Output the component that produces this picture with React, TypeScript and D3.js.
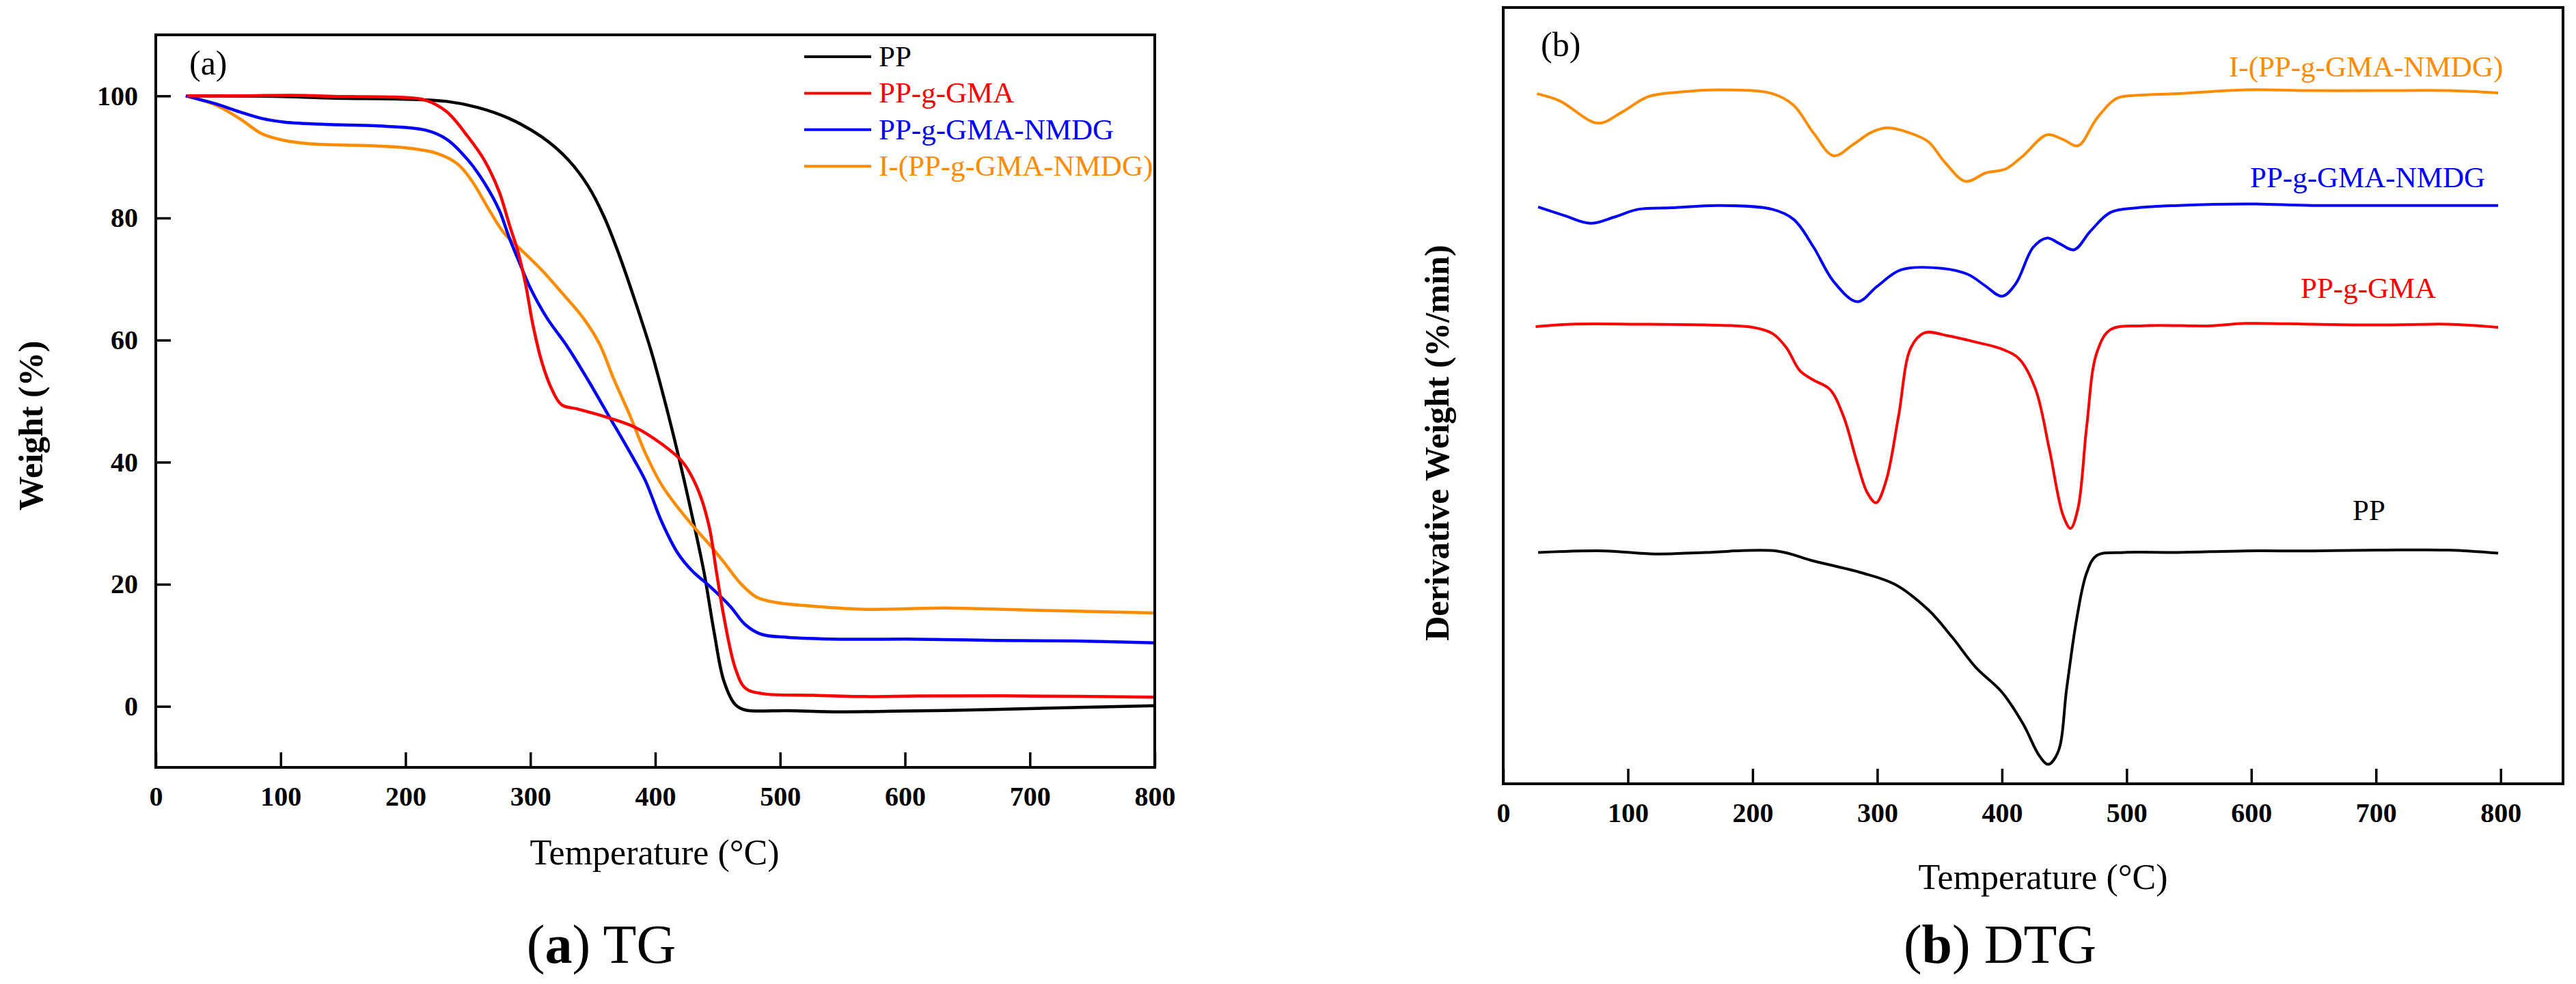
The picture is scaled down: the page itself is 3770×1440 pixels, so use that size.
import React, { useEffect, useRef } from 'react';
import * as d3 from 'd3';

type Pt = [number, number];

// TG curves: [temperature °C, weight %]
const ppTG: Pt[] = [
  [25, 100], [100, 99.9], [149, 99.6], [191, 99.5], [233, 99.1], [258, 98.1], [283, 96.3],
  [309, 93.3], [330, 89.6], [346, 85.3], [359, 80.2], [371, 74], [384, 66.3], [397, 58],
  [407, 50.5], [418, 41.5], [428, 32.6], [439, 22], [447, 12.3], [455, 4.1], [464, 0.3],
  [472, -0.6], [506, -0.7], [548, -0.9], [590, -0.8], [652, -0.6], [715, -0.3], [800, 0.1],
];
const gmaTG: Pt[] = [
  [25, 100], [60, 100], [110, 100.1], [149, 99.9], [191, 99.8], [216, 99.3], [233, 97.4],
  [250, 93.3], [263, 89.5], [275, 84.3], [283, 79], [290, 74.5], [296, 69.3], [302, 62.5],
  [309, 56.5], [317, 52], [325, 49.4], [338, 48.7], [359, 47.5], [384, 45.7], [405, 43],
  [422, 40], [434, 35.6], [443, 29.6], [449, 22], [455, 14.6], [464, 6.3], [472, 3],
  [485, 2.1], [527, 1.8], [569, 1.6], [610, 1.7], [694, 1.7], [800, 1.5],
];
const nmdgTG: Pt[] = [
  [24, 100], [48, 98.7], [67, 97.4], [85, 96.3], [103, 95.7], [140, 95.3], [176, 95.1],
  [216, 94.4], [233, 92.9], [250, 89.5], [263, 85.8], [275, 81.3], [283, 76.8], [292, 72.3],
  [300, 68.5], [313, 63.7], [330, 58.8], [346, 53.5], [363, 47.5], [380, 41.5], [392, 37],
  [405, 30.3], [418, 25.1], [430, 22.1], [443, 19.8], [460, 16.4], [472, 13.4], [485, 11.8],
  [506, 11.3], [548, 11], [610, 11], [673, 10.8], [736, 10.7], [800, 10.4],
];
const iNmdgTG: Pt[] = [
  [24, 100], [48, 98.5], [67, 96.3], [85, 93.8], [103, 92.7], [121, 92.2], [140, 92],
  [176, 91.8], [200, 91.5], [225, 90.6], [242, 88.8], [254, 85.8], [267, 81.3], [279, 77.5],
  [292, 74.9], [309, 71.5], [325, 67.8], [342, 63.7], [355, 59.5], [367, 53.5], [380, 47.5],
  [392, 41.5], [405, 36.3], [418, 32.6], [430, 29.6], [443, 26.6], [455, 23.6], [468, 20.2],
  [481, 17.9], [497, 17], [527, 16.4], [569, 15.9], [632, 16.1], [694, 15.8], [800, 15.3],
];

// DTG curves: [temperature °C, derivative weight, arbitrary offset units]
const ppDTG: Pt[] = [
  [28, 29.8], [81, 30], [122, 29.6], [162, 29.8], [219, 30], [249, 28.7], [287, 27.2],
  [314, 25.7], [341, 22.4], [360, 18.9], [379, 15], [400, 11.8], [417, 7.7], [430, 3.6],
  [437, 2.5], [445, 4.1], [452, 12.4], [460, 21.3], [468, 27.2], [476, 29.4], [498, 29.8],
  [541, 29.8], [595, 30], [649, 30], [703, 30.1], [758, 30.1], [798, 29.7],
];
const gmaDTG: Pt[] = [
  [26, 58.9], [54, 59.2], [108, 59.2], [162, 59.1], [200, 58.8], [216, 58], [227, 56.2],
  [238, 53.2], [249, 52], [262, 50.8], [273, 47.3], [284, 41.3], [292, 37.5], [299, 36.2],
  [307, 39], [317, 47.3], [327, 56.2], [338, 58.1], [357, 57.7], [379, 56.9], [400, 56],
  [414, 54.7], [427, 50.8], [438, 43.1], [449, 34.6], [455, 32.9], [461, 35.5], [468, 46.1],
  [476, 55.5], [487, 58.5], [514, 59], [568, 59], [595, 59.3], [649, 59.2], [703, 59.1],
  [758, 59.2], [798, 58.8],
];
const nmdgDTG: Pt[] = [
  [28, 74.3], [49, 73.2], [70, 72.2], [89, 73], [108, 74], [135, 74.2], [173, 74.5],
  [216, 74], [233, 72.7], [249, 69.1], [265, 64.7], [284, 62.1], [300, 64.1], [319, 66.2],
  [352, 66.4], [373, 65.6], [387, 64.1], [400, 62.8], [411, 64.4], [425, 69.1], [436, 70.3],
  [446, 69.6], [458, 68.8], [471, 71.2], [487, 73.6], [509, 74.2], [541, 74.5], [595, 74.7],
  [649, 74.5], [703, 74.5], [758, 74.5], [798, 74.5],
];
const iNmdgDTG: Pt[] = [
  [27, 88.9], [45, 88], [76, 85.1], [95, 86.5], [116, 88.5], [141, 89.1], [173, 89.4],
  [216, 88.9], [233, 87.4], [249, 83.8], [265, 80.9], [281, 82.4], [295, 83.9], [308, 84.5],
  [325, 83.9], [341, 82.7], [354, 80.1], [371, 77.6], [387, 78.7], [403, 79.2], [417, 80.9],
  [436, 83.6], [449, 83], [461, 82.2], [476, 85.7], [492, 88.3], [509, 88.7], [541, 88.9],
  [595, 89.4], [649, 89.3], [703, 89.3], [758, 89.3], [798, 89],
];

const seriesNames = ['PP', 'PP-g-GMA', 'PP-g-GMA-NMDG', 'I-(PP-g-GMA-NMDG)'];
const seriesColors = ['#000000', '#ff0000', '#0000ff', '#ff8c00'];
const tgData = [ppTG, gmaTG, nmdgTG, iNmdgTG];
const dtgData = [ppDTG, gmaDTG, nmdgDTG, iNmdgDTG];
const xTicks = [0, 100, 200, 300, 400, 500, 600, 700, 800];
const yTicksTG = [0, 20, 40, 60, 80, 100];

const FONT = '"Times New Roman", "Liberation Serif", serif';

const App: React.FC = () => {
  const svgRef = useRef<SVGSVGElement>(null);

  useEffect(() => {
    if (!svgRef.current) return;
    const svg = d3.select(svgRef.current);
    svg.selectAll('*').remove();

    svg.append('rect').attr('width', 3770).attr('height', 1440).attr('fill', '#ffffff');

    const styleAxis = (g: d3.Selection<SVGGElement, unknown, null, undefined>) => {
      g.select('.domain').remove();
      g.selectAll('.tick line').attr('stroke', '#000').attr('stroke-width', 3.5);
      g.selectAll('.tick text')
        .attr('font-family', FONT)
        .attr('font-size', 40)
        .attr('font-weight', 'bold')
        .attr('fill', '#000');
    };

    // ---------- (a) TG ----------
    const xA = d3.scaleLinear().domain([0, 800]).range([228, 1690]);
    const yA = d3.scaleLinear().domain([-10, 110]).range([1123, 51]);

    const gx = svg.append('g').attr('transform', `translate(0,${yA.range()[0]})`)
      .call(d3.axisBottom(xA).tickValues(xTicks).tickSizeInner(-22).tickSizeOuter(0).tickPadding(28));
    styleAxis(gx);
    const gy = svg.append('g').attr('transform', `translate(${xA.range()[0]},0)`)
      .call(d3.axisLeft(yA).tickValues(yTicksTG).tickSizeInner(-22).tickSizeOuter(0).tickPadding(26));
    styleAxis(gy);

    const lineA = d3.line<Pt>()
      .x(d => xA(d[0]))
      .y(d => yA(d[1]))
      .curve(d3.curveCatmullRom.alpha(0.5));

    // draw so that black is behind the others as in the figure
    [0, 3, 2, 1].forEach(i => {
      svg.append('path')
        .attr('d', lineA(tgData[i]) as string)
        .attr('fill', 'none')
        .attr('stroke', seriesColors[i])
        .attr('stroke-width', 4.5)
        .attr('stroke-linejoin', 'round');
    });

    svg.append('rect')
      .attr('x', xA.range()[0]).attr('y', yA.range()[1])
      .attr('width', xA.range()[1] - xA.range()[0])
      .attr('height', yA.range()[0] - yA.range()[1])
      .attr('fill', 'none').attr('stroke', '#000').attr('stroke-width', 4);

    // legend
    seriesNames.forEach((name, i) => {
      const ly = 83 + i * 53.4;
      svg.append('line')
        .attr('x1', 1177).attr('x2', 1275).attr('y1', ly).attr('y2', ly)
        .attr('stroke', seriesColors[i]).attr('stroke-width', 4);
      svg.append('text')
        .attr('x', 1286).attr('y', ly + 14)
        .attr('font-family', FONT).attr('font-size', 43)
        .attr('fill', seriesColors[i])
        .text(name);
    });

    svg.append('text').attr('x', 277).attr('y', 109)
      .attr('font-family', FONT).attr('font-size', 50).text('(a)');

    svg.append('text')
      .attr('transform', 'translate(44,623) rotate(-90)')
      .attr('text-anchor', 'middle').attr('dy', '0.35em')
      .attr('font-family', FONT).attr('font-size', 50).attr('font-weight', 'bold')
      .text('Weight (%)');

    svg.append('text').attr('x', 958).attr('y', 1265)
      .attr('text-anchor', 'middle')
      .attr('font-family', FONT).attr('font-size', 52)
      .text('Temperature (°C)');

    const capA = svg.append('text').attr('x', 880).attr('y', 1409)
      .attr('text-anchor', 'middle').attr('font-family', FONT).attr('font-size', 80);
    capA.append('tspan').text('(');
    capA.append('tspan').attr('font-weight', 'bold').text('a');
    capA.append('tspan').text(') TG');

    // ---------- (b) DTG ----------
    const xB = d3.scaleLinear().domain([0, 850]).range([2200, 3751]);
    const yB = d3.scaleLinear().domain([0, 100]).range([1147, 11]);

    const gxB = svg.append('g').attr('transform', `translate(0,${yB.range()[0]})`)
      .call(d3.axisBottom(xB).tickValues(xTicks).tickSizeInner(-22).tickSizeOuter(0).tickPadding(28));
    styleAxis(gxB);

    const lineB = d3.line<Pt>()
      .x(d => xB(d[0]))
      .y(d => yB(d[1]))
      .curve(d3.curveCatmullRom.alpha(0.5));

    dtgData.forEach((data, i) => {
      svg.append('path')
        .attr('d', lineB(data) as string)
        .attr('fill', 'none')
        .attr('stroke', seriesColors[i])
        .attr('stroke-width', 4)
        .attr('stroke-linejoin', 'round');
    });

    svg.append('rect')
      .attr('x', xB.range()[0]).attr('y', yB.range()[1])
      .attr('width', xB.range()[1] - xB.range()[0])
      .attr('height', yB.range()[0] - yB.range()[1])
      .attr('fill', 'none').attr('stroke', '#000').attr('stroke-width', 4);

    const dtgLabelPos: [number, number][] = [[3443, 761], [3367, 436], [3293, 274], [3262, 112]];
    seriesNames.forEach((name, i) => {
      svg.append('text')
        .attr('x', dtgLabelPos[i][0]).attr('y', dtgLabelPos[i][1])
        .attr('font-family', FONT).attr('font-size', 43)
        .attr('fill', seriesColors[i])
        .text(name);
    });

    svg.append('text').attr('x', 2255).attr('y', 82)
      .attr('font-family', FONT).attr('font-size', 50).text('(b)');

    svg.append('text')
      .attr('transform', 'translate(2102,648) rotate(-90)')
      .attr('text-anchor', 'middle').attr('dy', '0.35em')
      .attr('font-family', FONT).attr('font-size', 50).attr('font-weight', 'bold')
      .text('Derivative Weight (%/min)');

    svg.append('text').attr('x', 2990).attr('y', 1301)
      .attr('text-anchor', 'middle')
      .attr('font-family', FONT).attr('font-size', 52)
      .text('Temperature (°C)');

    const capB = svg.append('text').attr('x', 2927).attr('y', 1409)
      .attr('text-anchor', 'middle').attr('font-family', FONT).attr('font-size', 80);
    capB.append('tspan').text('(');
    capB.append('tspan').attr('font-weight', 'bold').text('b');
    capB.append('tspan').text(') DTG');
  }, []);

  return (
    <svg
      ref={svgRef}
      width={3770}
      height={1440}
      style={{ position: 'absolute', left: 0, top: 0, display: 'block' }}
    />
  );
};

export default App;
